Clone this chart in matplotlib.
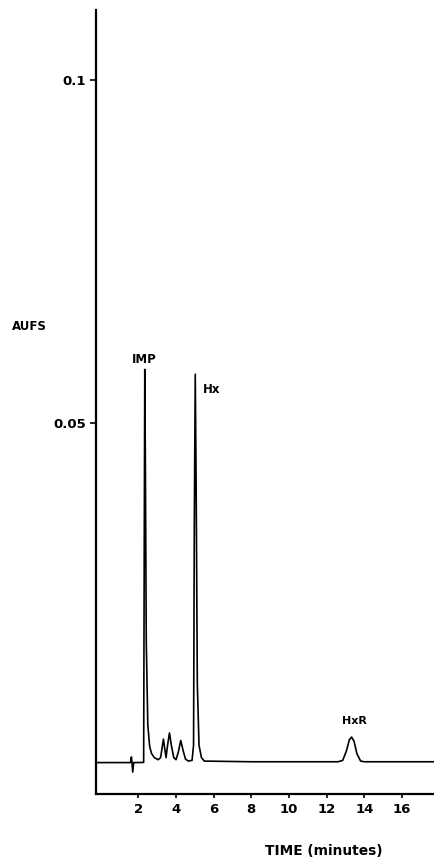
import matplotlib
matplotlib.use("Agg")
import matplotlib.pyplot as plt

# traced chromatogram (time in minutes, absorbance in AUFS)
time_min = [-0.2, 1.58, 1.63, 1.66, 1.70, 1.75, 2.28, 2.31, 2.34, 2.37, 2.42, 2.50,
            2.60, 2.70, 2.85, 3.05, 3.18, 3.27, 3.33, 3.40, 3.47, 3.55, 3.65, 3.75,
            3.88, 4.00, 4.12, 4.25, 4.38, 4.50, 4.65, 4.85, 4.93, 4.97, 5.02, 5.07,
            5.13, 5.22, 5.35, 5.50, 8.0, 12.60, 12.85, 13.05, 13.20, 13.32, 13.45,
            13.60, 13.80, 14.0, 17.75]
absorbance = [0.00048, 0.00048, 0.0013, 0.0005, -0.0009, 0.00048, 0.0005, 0.030,
              0.0578, 0.045, 0.018, 0.006, 0.0028, 0.0018, 0.0012, 0.0009, 0.0012,
              0.0028, 0.0039, 0.0025, 0.0012, 0.0030, 0.0048, 0.0030, 0.0012,
              0.0009, 0.0020, 0.0037, 0.0022, 0.0010, 0.0007, 0.0008, 0.003, 0.035,
              0.0571, 0.040, 0.012, 0.003, 0.0012, 0.0007, 0.0006, 0.0006, 0.0008,
              0.0022, 0.0038, 0.0042, 0.0036, 0.0018, 0.0007, 0.0006, 0.0006]

peak_names = ["IMP", "Hx", "HxR"]
peak_label_x = [2.30, 5.90, 13.45]
peak_label_y = [0.0593, 0.0548, 0.0065]

x_ticks = [2, 4, 6, 8, 10, 12, 14, 16]
y_ticks = [0.05, 0.1]
y_tick_labels = ["0.05", "0.1"]

FONT = "DejaVu Sans"
W, H = 435, 858
fig = plt.figure(figsize=(W / 100, H / 100), dpi=100)
left_px, right_px, top_px, bottom_px = 96, 435, 10, 794
ax = fig.add_axes([left_px / W, 1 - bottom_px / H, (right_px - left_px) / W,
                   (bottom_px - top_px) / H])

ax.plot(time_min, absorbance, color="black", lw=1.2, solid_joinstyle="round")

ax.set_xlim(-0.25, 17.75)
ax.set_ylim(-0.0041, 0.1102)

for s in ["top", "right"]:
    ax.spines[s].set_visible(False)
for s in ["left", "bottom"]:
    ax.spines[s].set_linewidth(1.6)

ax.set_xticks(x_ticks)
ax.set_xticklabels([str(v) for v in x_ticks], fontweight="bold",
                   fontfamily=FONT, fontsize=9.5)
ax.set_yticks(y_ticks)
ax.set_yticklabels(y_tick_labels, fontweight="bold",
                   fontfamily=FONT, fontsize=9.5)
ax.tick_params(axis="x", direction="out", length=3, width=1.2, pad=3.5)
ax.tick_params(axis="y", direction="out", length=4, width=1.2, pad=3)

label_sizes = [8.5, 8.5, 8]
for name, lx, ly, fs in zip(peak_names, peak_label_x, peak_label_y, label_sizes):
    ax.text(lx, ly, name, ha="center", va="center", fontweight="bold",
            fontfamily=FONT, fontsize=fs)

fig.text(29.5 / W, 1 - 327 / H, "AUFS", ha="center", va="center",
         fontweight="bold", fontfamily=FONT, fontsize=8.5)
fig.text(324 / W, 1 - 851 / H, "TIME (minutes)", ha="center", va="center",
         fontweight="bold", fontfamily=FONT, fontsize=9.9)

fig.savefig("out.png", dpi=100)
